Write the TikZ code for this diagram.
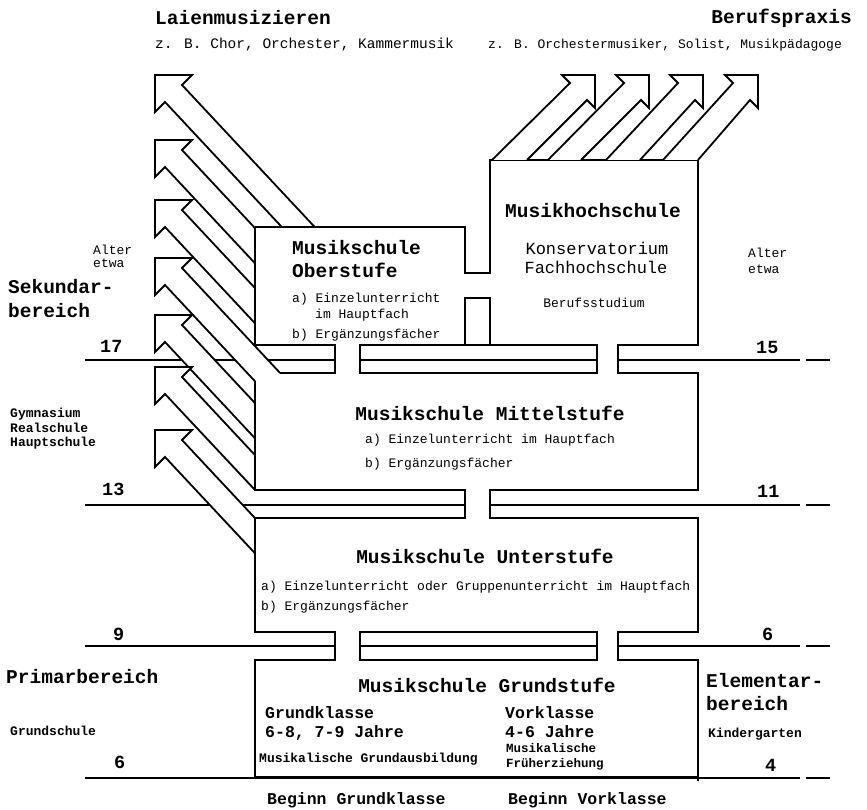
\documentclass[tikz,border=0pt]{standalone}
\usepackage{fontspec}
\newfontfamily\tw{Liberation Mono}

% broad arrow leaving a box towards the upper left: #1 tip y, #2 end of upper edge, #3 end of lower edge
\newcommand\sidearrowL[3]{%
  \fill[white] (155,#1) -- (192,#1) -- (182,{#1+10}) -- #2 -- #3 -- (165,{#1+27}) -- (155,{#1+37}) -- cycle;
  \draw[edge] #2 -- (182,{#1+10}) -- (192,#1) -- (155,#1) -- (155,{#1+37}) -- (165,{#1+27}) -- #3;
}
% broad arrow leaving a box towards the upper right: #1 tip x, #2 left foot, #3 right foot
\newcommand\sidearrowR[3]{%
  \fill[white] ({#1-33},75) -- (#1,75) -- (#1,108) -- ({#1-8},100) -- #3 -- #2 -- ({#1-25},83) -- cycle;
  \draw[edge] #2 -- ({#1-25},83) -- ({#1-33},75) -- (#1,75) -- (#1,108) -- ({#1-8},100) -- #3;
}

\begin{document}
\begin{tikzpicture}[x=1pt,y=-1pt,
  edge/.style={line width=1.8pt, line join=miter},
  rule/.style={line width=1.9pt},
  lbl/.style={inner sep=0pt, anchor=base west},
  clbl/.style={inner sep=0pt, anchor=base},
  rlbl/.style={inner sep=0pt, anchor=base east},
  big/.style={font=\tw\bfseries\fontsize{19.5}{22}\selectfont},
  num/.style={font=\tw\bfseries\fontsize{18.5}{21}\selectfont},
  mid/.style={font=\tw\bfseries\fontsize{16.5}{19}\selectfont},
  midr/.style={font=\tw\fontsize{17}{19}\selectfont},
  sml/.style={font=\tw\fontsize{13}{15}\selectfont},
  smlb/.style={font=\tw\bfseries\fontsize{13}{15}\selectfont},
  tiny/.style={font=\tw\bfseries\fontsize{12.5}{14}\selectfont},
]
\path[use as bounding box, fill=white] (0,0) rectangle (867,810);

% age lines, open where the passages between the stages run
\draw[rule] (85,360) -- (335,360) (360,360) -- (597,360) (618,360) -- (800,360) (806,360) -- (830,360);
\draw[rule] (85,505) -- (465,505) (490,505) -- (800,505) (806,505) -- (830,505);
\draw[rule] (85,646) -- (335,646) (360,646) -- (597,646) (618,646) -- (800,646) (806,646) -- (830,646);
\draw[rule, line width=2.6pt] (85,778) -- (800,778) (806,778) -- (830,778);

% arrows into amateur music making
\sidearrowL{75}{(314.7,227)}{(281.8,227)}
\sidearrowL{140}{(255,228.1)}{(255,263.3)}
\sidearrowL{200}{(255,288.1)}{(255,323.3)}
\sidearrowL{258}{(280.1,373)}{(255,381.3)}
\sidearrowL{315}{(255,403.1)}{(255,438.3)}
\sidearrowL{367}{(255,455.1)}{(255,490)}
\sidearrowL{430}{(255,518.1)}{(255,553.3)}

% stages and the passages between them
\draw[edge] (255,227) -- (255,345) -- (335,345) -- (335,373) -- (280.1,373);
\draw[edge] (255,227) -- (465,227) -- (465,273) -- (490,273) -- (490,160) -- (698,160)
  -- (698,345) -- (618,345) -- (618,373) -- (698,373) -- (698,490) -- (490,490)
  -- (490,518) -- (698,518) -- (698,632) -- (618,632) -- (618,660) -- (698,660) -- (698,781);
\draw[edge] (465,345) -- (465,298) -- (490,298) -- (490,345);
\draw[edge] (360,345) rectangle (597,373);
\draw[edge] (255,381.3) -- (255,490) -- (465,490) -- (465,518) -- (255,518) -- (255,632)
  -- (335,632) -- (335,660) -- (255,660) -- (255,777) -- (698,777);
\draw[edge] (360,632) rectangle (597,660);

% arrows into the profession
\sidearrowR{595}{(492,160)}{(527,160)}
\sidearrowR{649}{(548,160)}{(581,160)}
\sidearrowR{703}{(606,160)}{(640,160)}
\sidearrowR{758}{(663,160)}{(698,160)}

% headings above
\node[lbl,big] (laien) at (155,25) {Laienmusizieren};
\node[lbl,font=\tw\fontsize{14.5}{16}\selectfont] (laienbsp) at (155,49) {z. B. Chor, Orchester, Kammermusik};
\node[rlbl,big] (beruf) at (852,24) {Berufspraxis};
\node[lbl,sml] (berufbsp) at (488,49) {z. B. Orchestermusiker, Solist, Musikpädagoge};

% Oberstufe
\node[lbl,big] (ober1) at (292,255) {Musikschule};
\node[lbl,big] (ober2) at (292,278) {Oberstufe};
\node[lbl,sml] (obera) at (292,302) {a) Einzelunterricht};
\node[lbl,sml] (oberim) at (315,318) {im Hauptfach};
\node[lbl,sml] (oberb) at (292,338) {b) Ergänzungsfächer};

% Musikhochschule
\node[clbl,big] (hoch) at (593,218) {Musikhochschule};
\node[clbl,midr] (kons) at (597,255) {Konservatorium};
\node[clbl,midr] (fach) at (596,273) {Fachhochschule};
\node[clbl,sml] (stud) at (594,307) {Berufsstudium};

% ages and school levels at the sides
\node[lbl,sml] (alterL) at (93,255) {Alter};
\node[lbl,sml] (etwaL) at (93,268) {etwa};
\node[lbl,sml] (alterR) at (748,258) {Alter};
\node[lbl,sml] (etwaR) at (748,273) {etwa};
\node[lbl,big] (sek1) at (8,294) {Sekundar-};
\node[lbl,big] (sek2) at (8,317) {bereich};
\node[lbl,num] (a17) at (100,352) {17};
\node[lbl,num] (a15) at (756,353) {15};
\node[lbl,smlb] (gym) at (10,417) {Gymnasium};
\node[lbl,smlb] (real) at (10,432) {Realschule};
\node[lbl,smlb] (haupt) at (10,446) {Hauptschule};
\node[lbl,num] (a13) at (102,495) {13};
\node[lbl,num] (a11) at (757,497) {11};
\node[lbl,num] (a9) at (113,640) {9};
\node[lbl,num] (a6r) at (762,640) {6};
\node[lbl,big] (prim) at (6,683) {Primarbereich};
\node[lbl,smlb] (gsch) at (10,735) {Grundschule};
\node[lbl,num] (a6l) at (114,768) {6};
\node[lbl,big] (elem1) at (706,687) {Elementar-};
\node[lbl,big] (elem2) at (706,710) {bereich};
\node[lbl,smlb] (kiga) at (708,737) {Kindergarten};
\node[lbl,num] (a4) at (765,771) {4};

% Mittelstufe
\node[clbl,big] (mittel) at (490,420) {Musikschule Mittelstufe};
\node[lbl,sml] (mittela) at (365,443) {a) Einzelunterricht im Hauptfach};
\node[lbl,sml] (mittelb) at (365,467) {b) Ergänzungsfächer};

% Unterstufe
\node[clbl,big] (unter) at (485,563) {Musikschule Unterstufe};
\node[lbl,sml] (untera) at (261,590) {a) Einzelunterricht oder Gruppenunterricht im Hauptfach};
\node[lbl,sml] (unterb) at (261,610) {b) Ergänzungsfächer};

% Grundstufe
\node[clbl,big] (grund) at (487,692) {Musikschule Grundstufe};
\node[lbl,mid] (gk1) at (265,718) {Grundklasse};
\node[lbl,mid] (gk2) at (265,737) {6-8, 7-9 Jahre};
\node[lbl,smlb] (gk3) at (259,762) {Musikalische Grundausbildung};
\node[lbl,mid] (vk1) at (505,718) {Vorklasse};
\node[lbl,mid] (vk2) at (505,737) {4-6 Jahre};
\node[lbl,tiny] (vk3) at (506,752) {Musikalische};
\node[lbl,tiny] (vk4) at (506,767) {Früherziehung};

% start of the classes
\node[lbl,mid] (begG) at (267,804) {Beginn Grundklasse};
\node[lbl,mid] (begV) at (508,804) {Beginn Vorklasse};
\end{tikzpicture}
\end{document}
